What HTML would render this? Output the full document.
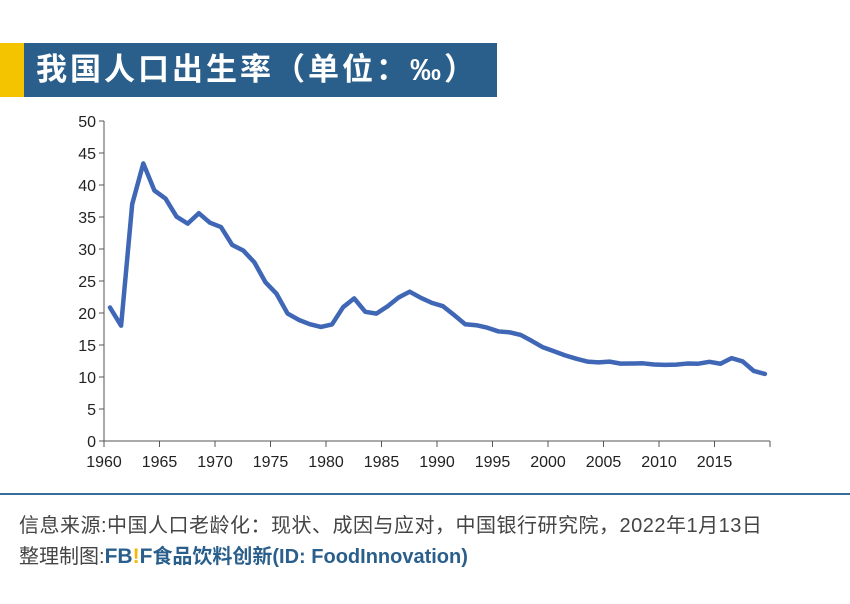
<!DOCTYPE html>
<html><head><meta charset="utf-8"><style>
body{margin:0;width:850px;height:604px;background:#fff;overflow:hidden;position:relative;font-family:"Liberation Sans","Noto Sans CJK SC",sans-serif}
.y{position:absolute;left:0;top:43px;width:24px;height:54px;background:#f5c400}
.t{position:absolute;left:24px;top:43px;width:473px;height:54px;background:#2a5f8c;color:#fff;font-size:31px;font-weight:bold;line-height:54px;padding-left:12px;box-sizing:border-box;letter-spacing:3px;white-space:nowrap}
.ln{position:absolute;left:0;top:493px;width:850px;height:2px;background:#3a6d9a}
.f{position:absolute;left:19px;font-size:20px;color:#444;white-space:nowrap}
</style></head><body>
<div class="y"></div><div class="t">我国人口出生率（单位：‰）</div>
<svg width="850" height="604" style="position:absolute;left:0;top:0">
<g font-size="16" fill="#222" font-family="Liberation Sans,sans-serif">
<line x1="104" y1="121" x2="104" y2="441" stroke="#555"/>
<line x1="104" y1="441" x2="770" y2="441" stroke="#555"/>
<g id="yt"></g>
</g>
<polyline id="p" fill="none" stroke="#3f67b6" stroke-width="4.5" stroke-linejoin="round" stroke-linecap="round"/>
</svg>
<div class="ln"></div>
<div class="f" style="top:509px;letter-spacing:0.5px">信息来源:中国人口老龄化：现状、成因与应对，中国银行研究院，2022年1月13日</div>
<div class="f" style="top:540px">整理制图:<b style="color:#2a5f8c;font-size:21px">FB<span style="color:#f5b800">!</span>F</b><span style="color:#2a5f8c;font-weight:bold">食品饮料创新(ID: FoodInnovation)</span></div>
<script>
var d=[20.86,18.02,37.01,43.37,39.14,37.88,35.05,33.96,35.59,34.11,33.43,30.65,29.77,27.93,24.82,23.01,19.91,18.93,18.25,17.82,18.21,20.91,22.28,20.19,19.9,21.04,22.43,23.33,22.37,21.58,21.06,19.68,18.24,18.09,17.7,17.12,16.98,16.57,15.64,14.64,14.03,13.38,12.86,12.41,12.29,12.4,12.09,12.1,12.14,11.95,11.9,11.93,12.1,12.08,12.37,12.07,12.95,12.43,10.94,10.48];
document.getElementById('p').setAttribute('points',d.map(function(v,i){return (110+11.1*i)+','+(441-6.4*v)}).join(' '));
var g=document.getElementById('yt'),s='';
for(var k=0;k<=10;k++){var y=441-32*k;s+='<line x1="99" x2="104" y1="'+y+'" y2="'+y+'" stroke="#555"/><text x="96" y="'+(y+6)+'" text-anchor="end">'+(k*5)+'</text>';}
for(var k=0;k<=12;k++){var x=104+55.5*k;s+='<line x1="'+x+'" x2="'+x+'" y1="441" y2="447" stroke="#555"/>';if(k<12)s+='<text x="'+x+'" y="467" text-anchor="middle">'+(1960+5*k)+'</text>';}
g.innerHTML=s;
</script>
</body></html>
